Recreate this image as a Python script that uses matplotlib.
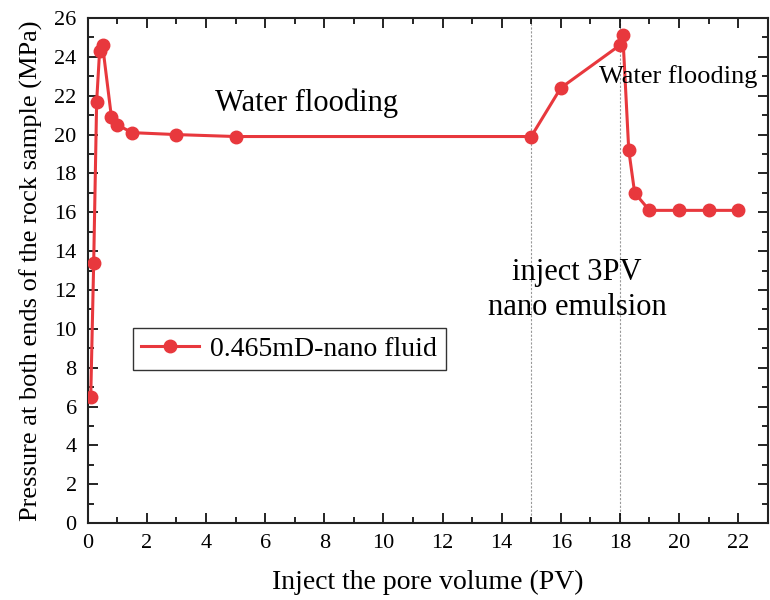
import matplotlib.pyplot as plt
from matplotlib.ticker import MultipleLocator

plt.rcParams['font.family'] = ['Liberation Serif', 'DejaVu Serif']

pv = [0.1, 0.2, 0.3, 0.4, 0.5, 0.8, 1.0, 1.5, 3, 5, 15, 16, 18, 18.1, 18.3, 18.5, 19, 20, 21, 22]
pressure = [6.5, 13.4, 21.7, 24.3, 24.6, 20.9, 20.5, 20.1, 20.0, 19.9, 19.9, 22.4, 24.6, 25.1,
            19.2, 17.0, 16.1, 16.1, 16.1, 16.1]
stage_lines = [15, 18]

fig = plt.figure(figsize=(7.7, 6), dpi=100)
ax = fig.add_axes([0.114, 0.128, 0.883, 0.842])

for xv in stage_lines:
    ax.axvline(xv, color='#999999', lw=0.8, ls=(0, (2, 1.5)), zorder=1)

ax.plot(pv, pressure, '-o', color='#e8383d', lw=2.2, ms=9, label='0.465mD-nano fluid', zorder=3)

ax.text(7.4, 21.6, 'Water flooding', fontsize=22, ha='center', va='center')
ax.text(16.55, 12.0, 'inject 3PV\nnano emulsion', fontsize=22, ha='center', va='center',
        linespacing=1.25)
# right-hand label squeezed against the frame, as in the original
ax.text(17.3, 23.0, 'Water flooding', fontsize=19, ha='left', va='center')

ax.set_xlim(0, 23)
ax.set_ylim(0, 26)
ax.xaxis.set_major_locator(MultipleLocator(2))
ax.xaxis.set_minor_locator(MultipleLocator(1))
ax.yaxis.set_major_locator(MultipleLocator(2))
ax.yaxis.set_minor_locator(MultipleLocator(1))
ax.tick_params(which='both', direction='in', top=True, right=True, labelsize=16, width=1.2)
ax.tick_params(which='major', length=7)
ax.tick_params(which='minor', length=4)
ax.tick_params(axis='x', pad=8)
ax.tick_params(axis='y', pad=8)
for s in ax.spines.values():
    s.set_linewidth(1.5)
    s.set_color('#222222')

ax.set_xlabel('Inject the pore volume (PV)', fontsize=20, labelpad=12)
ax.set_ylabel('Pressure at both ends of the rock sample (MPa)', fontsize=19, labelpad=8)

leg = ax.legend(loc='center left', bbox_to_anchor=(0.066, 0.344), borderaxespad=0, fontsize=20,
                fancybox=False, edgecolor='#333333', framealpha=1, handlelength=2.1,
                borderpad=0.3, handletextpad=0.4)
leg.get_frame().set_linewidth(1.0)

fig.savefig('out.png', dpi=100)
